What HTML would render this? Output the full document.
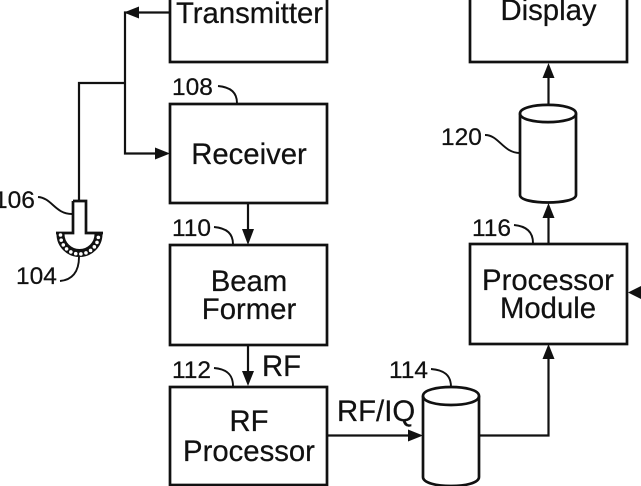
<!DOCTYPE html>
<html>
<head>
<meta charset="utf-8">
<style>
html,body{margin:0;padding:0;background:#fff;width:641px;height:486px;overflow:hidden}
svg{display:block}
text{font-family:"Liberation Sans",sans-serif;fill:#111;stroke:#111;stroke-width:.25}
.l{font-size:29.300px;text-anchor:middle}
.n{font-size:24.500px}
.b{fill:none;stroke:#111;stroke-width:2.700}
.c{fill:none;stroke:#111;stroke-width:2.200}
.t{fill:none;stroke:#111;stroke-width:1.900}
.a{fill:#111;stroke:none}
</style>
</head>
<body>
<svg width="641" height="486" viewBox="0 0 641 486" xmlns="http://www.w3.org/2000/svg">
<rect class="b" x="170" y="-30" width="157" height="92"/>
<rect class="b" x="170" y="104" width="157" height="99"/>
<rect class="b" x="170" y="245" width="157" height="100"/>
<rect class="b" x="170" y="387" width="157" height="98"/>
<rect class="b" x="470" y="-30" width="157" height="92"/>
<rect class="b" x="470" y="244" width="157" height="100"/>

<path class="c" d="M170 12.500H125V153.500H158"/>
<path class="c" d="M125 83H79V201"/>
<path class="a" d="M124 12.500L139 6.500V18.500Z"/>
<path class="a" d="M170 153.500L155 147.500V159.500Z"/>

<path class="c" d="M248 203V233"/>
<path class="a" d="M248 245L242 229H254Z"/>
<path class="c" d="M248 345V375"/>
<path class="a" d="M248 386L242 371H254Z"/>
<path class="c" d="M327 435.500H412"/>
<path class="a" d="M423 435.500L408 429.500V441.500Z"/>
<path class="c" d="M479 435.500H548.500V355"/>
<path class="a" d="M548.500 344L542.500 359H554.500Z"/>
<path class="c" d="M548.500 244V215"/>
<path class="a" d="M548.500 203L542.500 218H554.500Z"/>
<path class="c" d="M548.500 105V75"/>
<path class="a" d="M548.500 63L542.500 78H554.500Z"/>
<path class="a" d="M628 292.500L641 286V299Z"/>

<path class="b" d="M520 113.500C520 102 576 102 576 113.500V195C576 205 520 205 520 195Z"/>
<path class="b" d="M520 113.500C520 125 576 125 576 113.500"/>
<path class="b" d="M423 396C423 384 479 384 479 396V477C479 489 423 489 423 477Z"/>
<path class="b" d="M423 396C423 408 479 408 479 396"/>

<path class="b" d="M73 201H86V233H103"/>
<path class="b" d="M73 201V233H56"/>
<path d="M60.500 234A19 19 0 0 0 98.500 234" fill="none" stroke="#111" stroke-width="8"/>
<path d="M60.500 235A19 19 0 0 0 98.500 235" fill="none" stroke="#fff" stroke-width="3.600" stroke-linecap="round" stroke-dasharray="0 5.200"/>

<path class="t" d="M218 86C230 87 237 92 237 103"/>
<path class="t" d="M214 227C226 228 233 233 233 244"/>
<path class="t" d="M214 368C226 369 233 374 233 386"/>
<path class="t" d="M431 369C444 370 451 375 451 387"/>
<path class="t" d="M514 225C525 226 533 231 533 243"/>
<path class="t" d="M485 135C499 135 503 153 520 153"/>
<path class="t" d="M38 197C52 198 55 214 72 214"/>
<path class="t" d="M60 281C72 280 79 272 79 257"/>

<text class="l" x="249.500" y="23">Transmitter</text>
<text class="l" x="249" y="164">Receiver</text>
<text class="l" x="249" y="291">Beam</text>
<text class="l" x="249" y="319">Former</text>
<text class="l" x="249" y="431">RF</text>
<text class="l" x="249" y="461">Processor</text>
<text class="l" x="548.500" y="20">Display</text>
<text class="l" x="548" y="290">Processor</text>
<text class="l" x="548" y="318">Module</text>
<text x="262" y="376" style="font-size:29.300px">RF</text>
<text x="337" y="421" style="font-size:29.300px">RF/IQ</text>

<text class="n" x="172" y="95">108</text>
<text class="n" x="172" y="236">110</text>
<text class="n" x="172" y="378">112</text>
<text class="n" x="389" y="378">114</text>
<text class="n" x="472" y="236">116</text>
<text class="n" x="441" y="145">120</text>
<text class="n" x="-6" y="208">106</text>
<text class="n" x="16" y="284">104</text>
</svg>
</body>
</html>
